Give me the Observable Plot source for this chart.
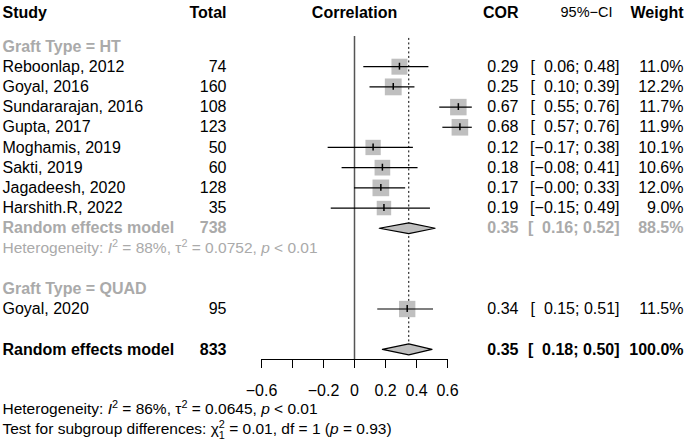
<!DOCTYPE html>
<html>
<head>
<meta charset="utf-8">
<script src="https://cdn.jsdelivr.net/npm/d3@7"></script>
<script src="https://cdn.jsdelivr.net/npm/@observablehq/plot@0.6"></script>
<style>
  body { margin: 0; background: #fff; }
</style>
</head>
<body>
<div id="chart"></div>
<script>
// ---------- data ----------
const studies = ["Reboonlap, 2012", "Goyal, 2016", "Sundararajan, 2016", "Gupta, 2017", "Moghamis, 2019", "Sakti, 2019", "Jagadeesh, 2020", "Harshith.R, 2022", "Goyal, 2020"];
const groups  = ["HT", "HT", "HT", "HT", "HT", "HT", "HT", "HT", "QUAD"];
const totals  = [74, 160, 108, 123, 50, 60, 128, 35, 95];
const cor     = [0.29, 0.25, 0.67, 0.68, 0.12, 0.18, 0.17, 0.19, 0.34];
const lower   = [0.06, 0.10, 0.55, 0.57, -0.17, -0.08, -0.00, -0.15, 0.15];
const upper   = [0.48, 0.39, 0.76, 0.76, 0.38, 0.41, 0.33, 0.49, 0.51];
const weights = [11.0, 12.2, 11.7, 11.9, 10.1, 10.6, 12.0, 9.0, 11.5];

const groupNames  = ["HT", "QUAD"];
const groupLabels = ["Graft Type = HT", "Graft Type = QUAD"];

// subgroup pooled results (only HT has several studies)
const subGroup  = ["HT"];
const subTotal  = [738];
const subCor    = [0.35];
const subLower  = [0.16];
const subUpper  = [0.52];
const subWeight = [88.5];
const subI2     = ["88%"];
const subTau2   = ["0.0752"];
const subP      = ["< 0.01"];

// overall pooled result
const overallLabel  = ["Random effects model"];
const overallTotal  = [833];
const overallCor    = [0.35];
const overallLower  = [0.18];
const overallUpper  = [0.50];
const overallWeight = [100.0];
const overallI2     = ["86%"];
const overallTau2   = ["0.0645"];
const overallP      = ["< 0.01"];

// subgroup difference test
const testChi2 = ["0.01"];
const testDf   = [1];
const testP    = ["0.93"];

// axis ticks
const ticks      = [-0.6, -0.4, -0.2, 0, 0.2, 0.4, 0.6];
const tickLabels = ["\u22120.6", "", "\u22120.2", "0", "0.2", "0.4", "0.6"];

// ---------- formatting ----------
const isNeg = v => v < 0 || Object.is(v, -0);
const num2 = v => (isNeg(v) ? "\u2212" : "") + Math.abs(v).toFixed(2);
const ciText = (l, u) => "[" + (isNeg(l) ? "" : "\u2007") + num2(l) + "; " + num2(u) + "]";
const wText = w => w.toFixed(1) + "%";

// ---------- row layout ----------
let r = 0;
const headerRows = [], studyRows = [], pooledRows = [], hetRows = [];
groupNames.forEach((g, gi) => {
  headerRows.push({row: r++, label: groupLabels[gi]});
  studies.forEach((s, i) => {
    if (groups[i] === g) studyRows.push({row: r++, study: s, total: totals[i], cor: cor[i], lower: lower[i], upper: upper[i], weight: weights[i]});
  });
  const si = subGroup.indexOf(g);
  if (si >= 0) {
    pooledRows.push({row: r++, study: "Random effects model", total: subTotal[si], cor: subCor[si], lower: subLower[si], upper: subUpper[si], weight: subWeight[si]});
    hetRows.push({row: r++, i2: subI2[si], tau2: subTau2[si], p: subP[si]});
  }
  r++;
});
pooledRows.push({row: r, study: overallLabel[0], total: overallTotal[0], cor: overallCor[0], lower: overallLower[0], upper: overallUpper[0], weight: overallWeight[0]});
const lastRow = r;
const yMax = lastRow + 0.5;
const dh = 0.27; // diamond half-height (rows)

const diamondPts = pooledRows.flatMap((d, id) => [
  {id, x: d.lower, y: d.row}, {id, x: d.cor, y: d.row - dh},
  {id, x: d.upper, y: d.row}, {id, x: d.cor, y: d.row + dh}
]);

// rich text segments
const hetSegs = (i2, tau2, p) => [
  {t: "Heterogeneity: "}, {t: "I", k: "it"}, {t: "2", k: "sup"},
  {t: " = " + i2 + ", \u03c4"}, {t: "2", k: "sup"}, {t: " = " + tau2 + ", "},
  {t: "p", k: "it"}, {t: " " + p}
];
const testSegs = [
  {t: "Test for subgroup differences: \u03c7"}, {t: "2", k: "sup"}, {t: String(testDf[0]), k: "sub"},
  {t: " = " + testChi2[0] + ", df = " + testDf[0] + " ("}, {t: "p", k: "it"}, {t: " = " + testP[0] + ")"}
];
const plain = segs => segs.map(s => s.t).join("");
const richMap = new Map();
hetRows.forEach(h => { h.segs = hetSegs(h.i2, h.tau2, h.p); h.text = plain(h.segs); richMap.set(h.text, h.segs); });
const overallHet = hetSegs(overallI2[0], overallTau2[0], overallP[0]);
richMap.set(plain(overallHet), overallHet);
richMap.set(plain(testSegs), testSegs);

// ---------- geometry constants (layout) ----------
const FL = 261, FR = 447;           // frame left/right in px
const xStudy = 2, xTotal = 226, xCor = 518, xCI = 619, xW = 683, xCIh = 612;
const FS = 16, FSs = 15.5;
const sqK = 4.82; // square side px per sqrt(weight)

const font = "'Liberation Sans', Arial, Helvetica, sans-serif";

const colText = (data, opts) => [
  Plot.text(data, {y: "row", text: "study", frameAnchor: "left", dx: xStudy - FL, textAnchor: "start", ...opts}),
  Plot.text(data, {y: "row", text: d => String(d.total), frameAnchor: "left", dx: xTotal - FL, textAnchor: "end", ...opts}),
  Plot.text(data, {y: "row", text: d => d.cor.toFixed(2), frameAnchor: "right", dx: xCor - FR, textAnchor: "end", ...opts}),
  Plot.text(data, {y: "row", text: d => ciText(d.lower, d.upper), frameAnchor: "right", dx: xCI - FR, textAnchor: "end", ...opts}),
  Plot.text(data, {y: "row", text: d => wText(d.weight), frameAnchor: "right", dx: xW - FR, textAnchor: "end", ...opts})
];

const hdr = (label, anchor, x, weight, size) => Plot.text([label], {
  text: d => d, frameAnchor: anchor, dx: anchor === "top" ? 0 : x - (anchor === "top-left" ? FL : FR), dy: -34,
  textAnchor: anchor === "top" ? "middle" : (anchor === "top-left" && label === "Study" ? "start" : "end"),
  lineAnchor: "middle", fontWeight: weight, fontSize: size, fill: "black"
});

const plot = Plot.plot({
  width: 685,
  height: 440,
  marginLeft: FL,
  marginRight: 685 - FR,
  marginTop: 46,
  marginBottom: 81,
  x: {domain: [ticks[0], ticks[ticks.length - 1]], axis: null},
  y: {domain: [0, yMax], reverse: true, axis: null},
  r: {type: "identity"},
  style: {fontFamily: font, fontSize: FS + "px", background: "white", overflow: "visible"},
  marks: [
    // axis
    Plot.ruleY([yMax], {x1: ticks[0], x2: ticks[ticks.length - 1], stroke: "black", strokeWidth: 1}),
    Plot.axisX(ticks, {ticks, tickSize: 9, tickPadding: 16, tickFormat: d => tickLabels[ticks.indexOf(d)], label: null, fontSize: FS, stroke: "black", fill: "black"}),
    // reference lines
    Plot.ruleX([0], {y1: -0.5, y2: yMax, stroke: "#555", strokeWidth: 1.5}),
    Plot.ruleX(overallCor, {y1: -0.4, y2: lastRow - dh, stroke: "black", strokeWidth: 1, strokeDasharray: "2,2.5"}),
    // study squares, CI lines, estimate ticks
    Plot.dot(studyRows, {x: "cor", y: "row", symbol: "square", r: d => sqK * Math.sqrt(d.weight) / Math.sqrt(Math.PI), fill: "#bfbfbf", stroke: "none"}),
    Plot.ruleY(studyRows, {y: "row", x1: "lower", x2: "upper", stroke: "black", strokeWidth: 1.2}),
    Plot.ruleX(studyRows, {x: "cor", y1: d => d.row - 0.17, y2: d => d.row + 0.17, stroke: "black", strokeWidth: 1.5}),
    // diamonds
    Plot.line(diamondPts, {x: "x", y: "y", z: "id", curve: "linear-closed", fill: "#c0c0c0", stroke: "black", strokeWidth: 1.2}),
    // headers
    hdr("Study", "top-left", xStudy, "bold", FS),
    hdr("Total", "top-left", xTotal, "bold", FS),
    hdr("Correlation", "top", 0, "bold", FS),
    hdr("COR", "top-right", xCor, "bold", FS),
    hdr("95%\u2212CI", "top-right", xCIh, "normal", 14.5),
    hdr("Weight", "top-right", xW, "bold", FS),
    // group labels
    Plot.text(headerRows, {y: "row", text: "label", frameAnchor: "left", dx: xStudy - FL, textAnchor: "start", fontWeight: "bold", fill: "#aaaaaa"}),
    // study rows
    ...colText(studyRows, {fill: "black"}),
    // pooled rows
    ...colText(pooledRows.slice(0, -1), {fill: "#aaaaaa", fontWeight: "bold"}),
    ...colText(pooledRows.slice(-1), {fill: "black", fontWeight: "bold"}),
    // heterogeneity for subgroups
    Plot.text(hetRows, {y: "row", text: "text", frameAnchor: "left", dx: xStudy - FL, textAnchor: "start", fill: "#aaaaaa", fontSize: FSs}),
    // bottom notes
    Plot.text([plain(overallHet)], {text: d => d, frameAnchor: "bottom-left", dx: xStudy - FL, dy: 50, textAnchor: "start", lineAnchor: "middle", fill: "black", fontSize: FSs}),
    Plot.text([plain(testSegs)], {text: d => d, frameAnchor: "bottom-left", dx: xStudy - FL, dy: 70, textAnchor: "start", lineAnchor: "middle", fill: "black", fontSize: FSs})
  ]
});

// rich text: italics, superscripts, subscripts
const svgns = "http://www.w3.org/2000/svg";
function rich(el, segs, fs) {
  el.textContent = "";
  let shift = 0;
  for (const s of segs) {
    const ts = document.createElementNS(svgns, "tspan");
    let target = 0;
    if (s.k === "sup") { target = -0.42 * fs; ts.setAttribute("font-size", 0.7 * fs); }
    if (s.k === "sub") { target = 0.26 * fs; ts.setAttribute("font-size", 0.7 * fs); ts.setAttribute("dx", -0.556 * 0.7 * fs); }
    if (s.k === "it") ts.setAttribute("font-style", "italic");
    const d = target - shift;
    if (d) ts.setAttribute("dy", d);
    shift = target;
    ts.textContent = s.t;
    el.appendChild(ts);
  }
}
plot.querySelectorAll("text").forEach(el => {
  const segs = richMap.get(el.textContent);
  if (segs) rich(el, segs, FSs);
});

document.getElementById("chart").appendChild(plot);
</script>
</body>
</html>
